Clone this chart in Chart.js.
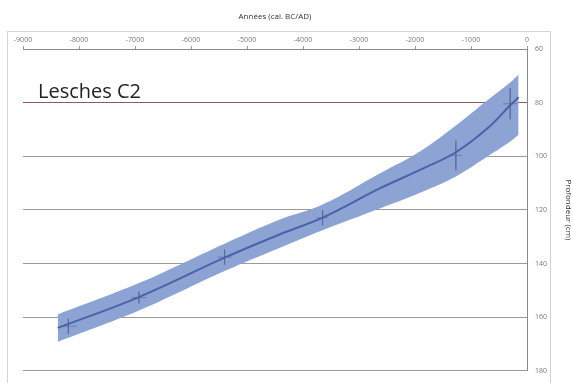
<!DOCTYPE html>
<html>
<head>
<meta charset="utf-8">
<script src="https://cdn.jsdelivr.net/npm/chart.js@4.4.0/dist/chart.umd.min.js"></script>
<style>
  body { margin: 0; background: #fff; }
  #wrap { position: relative; width: 573px; height: 383px; }
</style>
</head>
<body>
<div id="wrap"><canvas id="ageChart"></canvas></div>
<script>
// age-depth model, values
const bandYears = [-8380, -6930, -5400, -4400, -3650, -2630, -1900, -1270, -700, -300, -150];
const bandMedian = [164, 152.5, 137.8, 129, 122.9, 112, 105, 98.5, 89.5, 81, 78];
const bandUpper = [159, 147.3, 132.6, 123.5, 118, 106.4, 98, 88.5, 79, 72.5, 69.5];
const bandLower = [169.2, 157.5, 142.8, 134, 127.6, 119.5, 113.5, 107.5, 100, 94.5, 92];

// dated samples with error bars
const crossYears = [-8190, -6930, -5400, -3650, -1270, -300];
const crossDepths = [163.4, 152.7, 137.6, 122.9, 99.7, 80.4];
const crossYearErr = [150, 140, 130, 110, 110, 130];
const crossDepthErr = [2.8, 2.2, 2.8, 2.8, 5.5, 5.8];

const xTicks = [-9000, -8000, -7000, -6000, -5000, -4000, -3000, -2000, -1000, 0];
const yTicks = [60, 80, 100, 120, 140, 160, 180];

const siteLabel = 'Lesches C2';

function pts(xs, ys) {
    return xs.map(function(x, i) { return { x: x, y: ys[i] }; });
}

// error crosses as short segments separated by gaps
const crossData = [];
crossYears.forEach(function(x, i) {
    const y = crossDepths[i];
    crossData.push({ x: x - crossYearErr[i], y: y }, { x: x + crossYearErr[i], y: y }, { x: x, y: null });
    crossData.push({ x: x, y: y - crossDepthErr[i] }, { x: x, y: y + crossDepthErr[i] }, { x: x, y: null });
});

const framePlugin = {
    id: 'frame',
    beforeDraw: function(chart) {
        const ctx = chart.ctx;
        ctx.save();
        ctx.strokeStyle = '#d4d4d4';
        ctx.lineWidth = 1;
        ctx.strokeRect(7.5, 31.5, 543, 370);
        ctx.restore();
    },
    afterDraw: function(chart) {
        const ctx = chart.ctx;
        const area = chart.chartArea;
        ctx.save();
        ctx.fillStyle = '#222';
        ctx.font = '20px "Open Sans", sans-serif';
        ctx.textBaseline = 'alphabetic';
        ctx.fillText(siteLabel, area.left + 15, 98);
        ctx.restore();
    }
};

const ctx = document.getElementById('ageChart').getContext('2d');
new Chart(ctx, {
    type: 'line',
    data: {
        datasets: [
            {
                label: 'upper',
                data: pts(bandYears, bandUpper),
                borderWidth: 0,
                pointRadius: 0,
                backgroundColor: 'rgb(140, 163, 212)',
                fill: '+1',
                tension: 0.4,
                order: 3
            },
            {
                label: 'lower',
                data: pts(bandYears, bandLower),
                borderWidth: 0,
                pointRadius: 0,
                fill: false,
                tension: 0.4,
                order: 3
            },
            {
                label: 'median',
                data: pts(bandYears, bandMedian),
                borderColor: '#4a62aa',
                borderWidth: 2,
                pointRadius: 0,
                fill: false,
                tension: 0.4,
                order: 1
            },
            {
                label: 'dates',
                data: crossData,
                borderColor: 'rgba(80, 95, 145, 0.5)',
                borderWidth: 1,
                pointRadius: 0,
                fill: false,
                spanGaps: false,
                tension: 0,
                order: 0
            }
        ]
    },
    options: {
        responsive: true,
        maintainAspectRatio: false,
        animation: false,
        layout: { padding: { left: 23, top: 0, right: 0, bottom: 4 } },
        plugins: {
            legend: { display: false },
            tooltip: { enabled: false }
        },
        scales: {
            x: {
                type: 'linear',
                position: 'top',
                min: -9000,
                max: 0,
                afterBuildTicks: function(scale) {
                    scale.ticks = xTicks.map(function(v) { return { value: v }; });
                },
                afterFit: function(scale) { scale.height = 49; },
                ticks: {
                    color: '#777',
                    font: { size: 7, family: '"Open Sans", sans-serif' },
                    padding: 2,
                    maxRotation: 0,
                    callback: function(v) { return String(v); }
                },
                grid: {
                    drawOnChartArea: false,
                    drawTicks: true,
                    tickLength: 3,
                    color: '#999'
                },
                border: { display: true, color: '#8a8a8a', width: 1 },
                title: {
                    display: true,
                    text: 'Années (cal. BC/AD)',
                    color: '#333',
                    font: { size: 8, family: '"Open Sans", sans-serif' },
                    padding: { top: 12, bottom: 0 }
                }
            },
            y: {
                type: 'linear',
                position: 'right',
                reverse: true,
                min: 60,
                max: 180,
                afterBuildTicks: function(scale) {
                    scale.ticks = yTicks.map(function(v) { return { value: v }; });
                },
                afterFit: function(scale) { scale.width = 46; },
                ticks: {
                    color: '#777',
                    font: { size: 7, family: '"Open Sans", sans-serif' },
                    padding: 8
                },
                grid: {
                    drawTicks: false,
                    lineWidth: 1,
                    color: function(c) {
                        return c.tick && c.tick.value === 80 ? '#8e5a5a' : '#9a9a9a';
                    }
                },
                border: { display: true, color: '#8a8a8a', width: 1 },
                title: {
                    display: true,
                    text: 'Profondeur (cm)',
                    color: '#333',
                    font: { size: 8, family: '"Open Sans", sans-serif' },
                    padding: { top: 0, bottom: 3 }
                }
            }
        }
    },
    plugins: [framePlugin]
});
</script>
</body>
</html>
